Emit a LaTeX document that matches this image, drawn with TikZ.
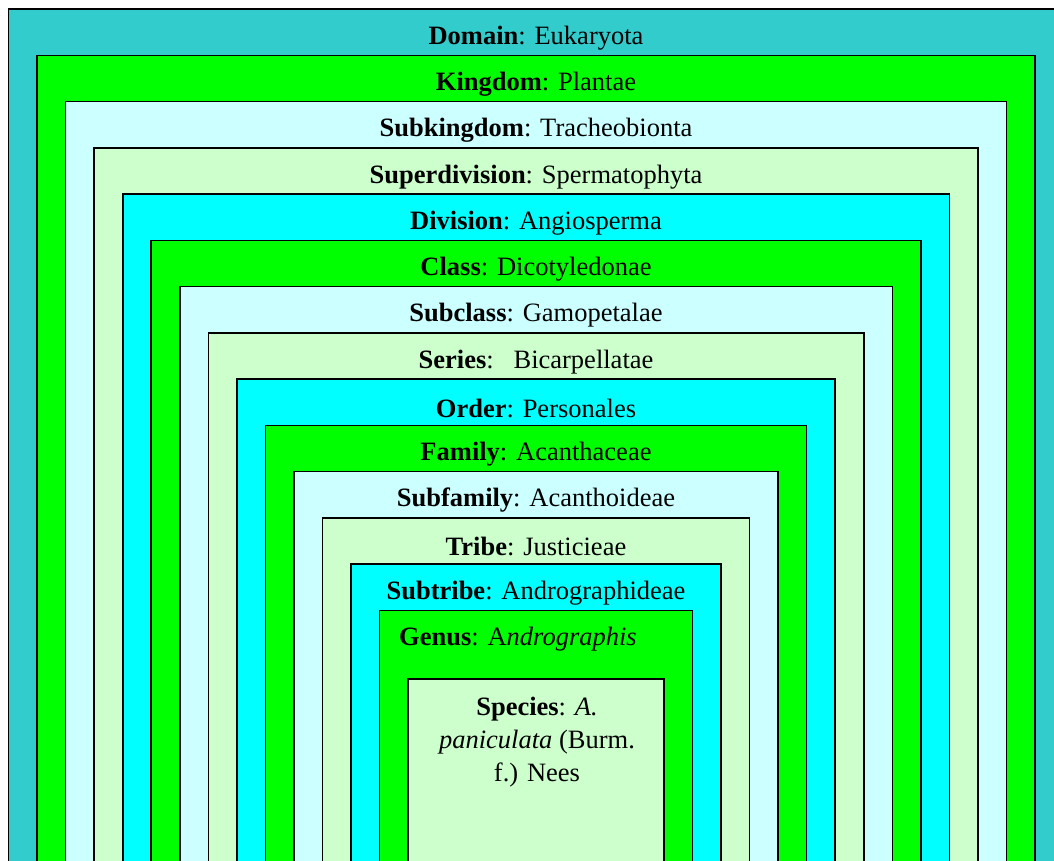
\documentclass[tikz,border=0pt]{standalone}
\usepackage{fontspec}
\setmainfont{Liberation Serif}
\usepackage{xcolor}
\usepackage{tikz}
\usetikzlibrary{positioning}

\definecolor{domcyan}{HTML}{33CCCC}
\definecolor{brightgreen}{HTML}{00FF00}
\definecolor{palecyan}{HTML}{CCFFFF}
\definecolor{palegreen}{HTML}{CCFFCC}
\definecolor{aqua}{HTML}{00FFFF}

\begin{document}
\begin{tikzpicture}[
    x=1pt, y=-1pt,
    rank/.style={draw=black, line width=1.6pt},
    dom/.style={rank, fill=domcyan},
    gr/.style={rank, fill=brightgreen},
    pc/.style={rank, fill=palecyan},
    pg/.style={rank, fill=palegreen},
    aq/.style={rank, fill=aqua},
    lbl/.style={font=\fontsize{26.5}{33}\selectfont, text=black, inner sep=0pt,
                align=center, yshift=-2.5pt},
]
\useasboundingbox (0,0) rectangle (1054,860);
\clip (0,0) rectangle (1054,860);
\fill[white] (0,0) rectangle (1054,860);

%% ---- NESTED RANKS ----
\draw[dom] (8.5,9)      rectangle (1063.5,900);
\draw[gr]  (37.0,55.3)  rectangle (1035.0,900);
\draw[pc]  (65.6,101.5) rectangle (1006.4,900);
\draw[pg]  (94.1,147.8) rectangle (977.9,900);
\draw[aq]  (122.7,194.0) rectangle (949.3,900);
\draw[gr]  (151.2,240.3) rectangle (920.8,900);
\draw[pc]  (179.7,286.5) rectangle (892.3,900);
\draw[pg]  (208.3,332.8) rectangle (863.7,900);
\draw[aq]  (236.8,379.0) rectangle (835.2,900);
\draw[gr]  (265.4,425.3) rectangle (806.6,900);
\draw[pc]  (293.9,471.5) rectangle (778.1,900);
\draw[pg]  (322.4,517.8) rectangle (749.6,900);
\draw[aq]  (351.0,564.0) rectangle (721.0,900);
\draw[gr]  (379.5,610.3) rectangle (692.5,900);
\draw[pg]  (408.1,679.0) rectangle (663.9,900);

%% ---- LABELS ----
\node[lbl] (domain)   at (536,35.5)  {\textbf{Domain}: Eukaryota};
\node[lbl] (kingdom)  at (536,81.8)  {\textbf{Kingdom}: Plantae};
\node[lbl] (subking)  at (536,128.0) {\textbf{Subkingdom}: Tracheobionta};
\node[lbl] (superdiv) at (536,174.3) {\textbf{Superdivision}: Spermatophyta};
\node[lbl] (division) at (536,220.5) {\textbf{Division}: Angiosperma};
\node[lbl] (class)    at (536,266.8) {\textbf{Class}: Dicotyledonae};
\node[lbl] (subclass) at (536,313.0) {\textbf{Subclass}: Gamopetalae};
\node[lbl] (series)   at (536,359.3) {\textbf{Series}:\ \ \ Bicarpellatae};
\node[lbl] (order)    at (536,405.5) {\textbf{Order}: Personales};
\node[lbl] (family)   at (536,451.8) {\textbf{Family}: Acanthaceae};
\node[lbl] (subfam)   at (536,498.0) {\textbf{Subfamily}: Acanthoideae};
\node[lbl] (tribe)    at (536,544.3) {\textbf{Tribe}: Justicieae};
\node[lbl] (subtribe) at (536,590.5) {\textbf{Subtribe}: Andrographideae};
\node[lbl] (genus)    at (518,636.8) {\textbf{Genus}: A\textit{ndrographis}};
\node[lbl, anchor=north] (species) at (537,694)
    {\textbf{Species}: \textit{A.}\\ \textit{paniculata} (Burm.\\ f.) Nees};

\end{tikzpicture}
\end{document}
